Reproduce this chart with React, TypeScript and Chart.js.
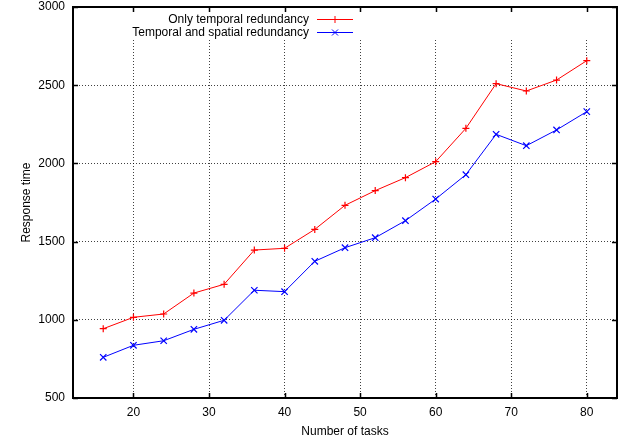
import React, { useEffect, useRef } from 'react';
import { Chart, registerables } from 'chart.js';

Chart.register(...registerables);

const tasks = [16, 20, 24, 28, 32, 36, 40, 44, 48, 52, 56, 60, 64, 68, 72, 76, 80];
const onlyTemporal = [943, 1016, 1037, 1171, 1227, 1446, 1457, 1578, 1732, 1826, 1909, 2011, 2224, 2510, 2463, 2533, 2657];
const temporalSpatial = [760, 837, 866, 939, 997, 1189, 1180, 1374, 1461, 1525, 1634, 1772, 1928, 2186, 2113, 2214, 2331];
const xTicks = [20, 30, 40, 50, 60, 70, 80];
const yTicks = [500, 1000, 1500, 2000, 2500, 3000];
const seriesLabels = ['Only temporal redundancy', 'Temporal and spatial redundancy'];
const seriesColors = ['#ff0000', '#0000ff'];
const seriesMarkers = ['cross', 'crossRot'];
const xTitle = 'Number of tasks';
const yTitle = 'Response time';

const FONT = '"Liberation Sans", Arial, Helvetica, sans-serif';

const framePlugin = {
  id: 'gnuplotFrame',
  beforeDatasetsDraw(chart: any) {
    const { ctx, chartArea } = chart;
    ctx.save();
    ctx.fillStyle = '#ffffff';
    ctx.fillRect(122, chartArea.top + 1, chartArea.right - 123, 30);
    ctx.restore();
  },
  afterDraw(chart: any) {
    const { ctx, chartArea, scales } = chart;
    const { left, right, top, bottom } = chartArea;
    ctx.save();
    ctx.strokeStyle = '#000';
    ctx.lineWidth = 2;
    ctx.setLineDash([]);
    ctx.strokeRect(left, top, right - left, bottom - top);
    ctx.lineWidth = 1.5;
    const tl = 5;
    ctx.beginPath();
    xTicks.forEach((v) => {
      const x = Math.round(scales.x.getPixelForValue(v)) + 0.5;
      ctx.moveTo(x, bottom);
      ctx.lineTo(x, bottom - tl);
      ctx.moveTo(x, top);
      ctx.lineTo(x, top + tl);
    });
    yTicks.forEach((v) => {
      const y = Math.round(scales.y.getPixelForValue(v)) + 0.5;
      ctx.moveTo(left, y);
      ctx.lineTo(left + tl, y);
      ctx.moveTo(right, y);
      ctx.lineTo(right - tl, y);
    });
    ctx.stroke();

    // key
    ctx.font = `12px ${FONT}`;
    ctx.textAlign = 'right';
    ctx.textBaseline = 'middle';
    const rows = [top + 12.5, top + 25.5];
    seriesLabels.forEach((lab, i) => {
      const y = rows[i];
      ctx.fillStyle = '#000';
      ctx.fillText(lab, 309, y);
      ctx.strokeStyle = seriesColors[i];
      ctx.lineWidth = 1;
      ctx.beginPath();
      ctx.moveTo(317, y);
      ctx.lineTo(353, y);
      ctx.stroke();
      const cx = 335;
      const r = 3.5;
      ctx.beginPath();
      if (seriesMarkers[i] === 'cross') {
        ctx.moveTo(cx - r, y);
        ctx.lineTo(cx + r, y);
        ctx.moveTo(cx, y - r);
        ctx.lineTo(cx, y + r);
      } else {
        const d = 3;
        ctx.moveTo(cx - d, y - d);
        ctx.lineTo(cx + d, y + d);
        ctx.moveTo(cx - d, y + d);
        ctx.lineTo(cx + d, y - d);
      }
      ctx.stroke();
    });
    ctx.restore();
  },
};

export default function App() {
  const ref = useRef<HTMLCanvasElement | null>(null);
  useEffect(() => {
    if (!ref.current) return;
    const chart = new Chart(ref.current, {
      type: 'line',
      data: {
        datasets: [
          {
            label: seriesLabels[0],
            data: tasks.map((t, i) => ({ x: t, y: onlyTemporal[i] })),
            borderColor: seriesColors[0],
            backgroundColor: seriesColors[0],
            borderWidth: 1,
            pointStyle: seriesMarkers[0] as any,
            pointRadius: 3.5,
            pointBorderWidth: 1.2,
            pointBorderColor: seriesColors[0],
            tension: 0,
            fill: false,
          },
          {
            label: seriesLabels[1],
            data: tasks.map((t, i) => ({ x: t, y: temporalSpatial[i] })),
            borderColor: seriesColors[1],
            backgroundColor: seriesColors[1],
            borderWidth: 1,
            pointStyle: seriesMarkers[1] as any,
            pointRadius: 4.5,
            pointBorderWidth: 1.2,
            pointBorderColor: seriesColors[1],
            tension: 0,
            fill: false,
          },
        ],
      },
      options: {
        responsive: false,
        animation: false,
        layout: { padding: { top: 7, right: 12, left: 0, bottom: 0 } },
        plugins: { legend: { display: false }, tooltip: { enabled: false } },
        scales: {
          x: {
            type: 'linear',
            min: 12,
            max: 84,
            afterBuildTicks: (s: any) => {
              s.ticks = xTicks.map((v) => ({ value: v }));
            },
            afterFit: (s: any) => {
              s.height = 43;
              s.paddingLeft = 0;
              s.paddingRight = 0;
            },
            grid: { color: 'rgba(0,0,0,0.75)', lineWidth: 1, drawTicks: false },
            border: { display: false, dash: [1, 2] },
            ticks: { color: '#000', padding: 7, font: { family: FONT, size: 12 }, maxRotation: 0, callback: (v: any) => String(v) },
            title: { display: true, text: xTitle, color: '#000', font: { family: FONT, size: 12 }, padding: { top: 0, bottom: 2 } },
          },
          y: {
            type: 'linear',
            min: 500,
            max: 3000,
            afterBuildTicks: (s: any) => {
              s.ticks = yTicks.map((v) => ({ value: v }));
            },
            afterFit: (s: any) => {
              s.width = 73;
              s.paddingTop = 0;
              s.paddingBottom = 0;
            },
            grid: { color: 'rgba(0,0,0,0.75)', lineWidth: 1, drawTicks: false },
            border: { display: false, dash: [1, 2] },
            ticks: { color: '#000', padding: 8, font: { family: FONT, size: 12 }, callback: (v: any) => String(v) },
            title: { display: true, text: yTitle, color: '#000', font: { family: FONT, size: 12 }, padding: { top: 19, bottom: 0 } },
          },
        },
      },
      plugins: [framePlugin],
    } as any);
    return () => chart.destroy();
  }, []);
  return (
    <div style={{ position: 'absolute', left: 0, top: 0, width: 629, height: 441, background: '#fff' }}>
      <canvas ref={ref} width={629} height={441} />
    </div>
  );
}
